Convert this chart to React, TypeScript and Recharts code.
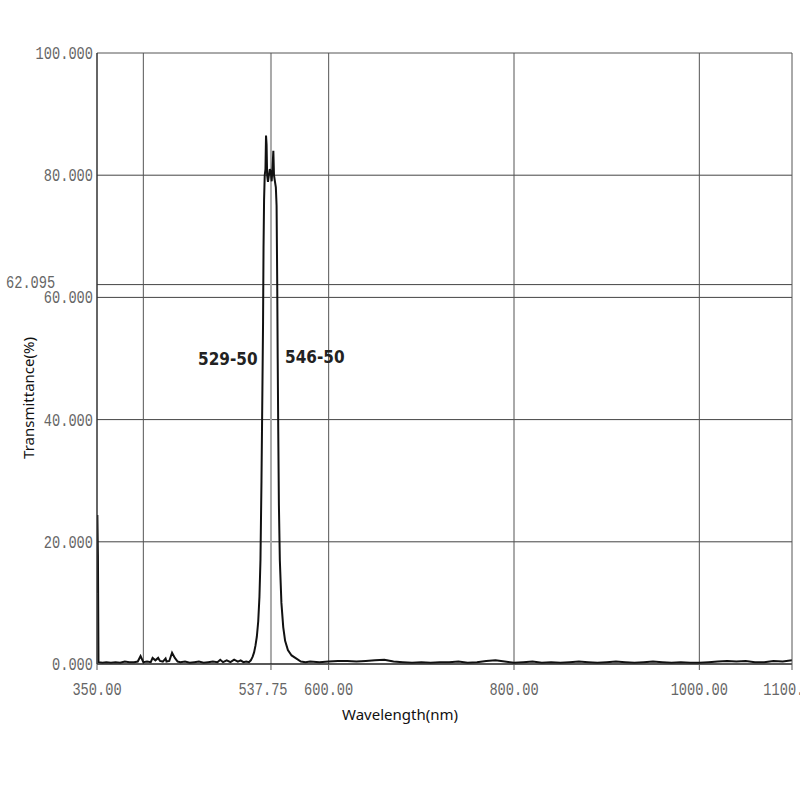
import { LineChart, Line, XAxis, YAxis, ReferenceLine } from 'recharts';

const WAVELENGTH = [
  350, 350.4, 351, 351.6, 356, 360, 365, 370, 375, 380, 385, 390, 394, 397, 400, 404, 408, 410,
  413, 416, 418, 421, 424, 425, 428, 431, 434, 437, 440, 445, 450, 455, 460, 465, 470, 475, 480,
  483, 486, 490, 494, 498, 502, 505, 508, 511, 514, 516, 518, 519.5, 521, 522.5, 524, 525.3,
  526.4, 527.5, 528.5, 529.2, 529.7, 530.3, 531, 531.8, 532.4, 533, 533.6, 534.5, 535.5, 536.5,
  537.5, 538.5, 539.5, 540.3, 541, 542, 543, 543.8, 544.5, 545, 545.6, 546.3, 547.3, 549, 551,
  553, 556, 560, 564, 570, 575, 580, 590, 600, 610, 620, 630, 640, 650, 660, 670, 680, 690, 700,
  710, 720, 730, 740, 750, 760, 770, 780, 790, 800, 810, 820, 830, 840, 850, 860, 870, 880, 890,
  900, 910, 920, 930, 940, 950, 960, 970, 980, 990, 1000, 1010, 1020, 1030, 1040, 1050, 1060,
  1070, 1080, 1090, 1100,
];

const TRANSMITTANCE = [
  11.6, 24.4, 17.8, 0.3, 0.2, 0.3, 0.2, 0.3, 0.2, 0.4, 0.3, 0.3, 0.4, 1.3, 0.3, 0.4, 0.3, 1.0,
  0.6, 1.0, 0.5, 0.4, 0.9, 0.4, 0.5, 1.85, 1.0, 0.4, 0.3, 0.4, 0.2, 0.3, 0.4, 0.2, 0.3, 0.4, 0.3,
  0.7, 0.3, 0.6, 0.3, 0.7, 0.4, 0.6, 0.3, 0.4, 0.3, 0.6, 1.2, 1.9, 3.0, 4.5, 7, 11,
  17, 30, 45, 56, 68, 76, 80, 81, 86.5, 85, 80, 78.9, 80, 81,
  80.5, 79, 81.5, 84, 80, 79, 78, 75, 62, 50, 38, 26, 17, 10, 6,
  3.8, 2.3, 1.4, 1.0, 0.4, 0.3, 0.4, 0.3, 0.4, 0.5, 0.5, 0.4, 0.5, 0.6, 0.7, 0.4, 0.3, 0.2, 0.3,
  0.2, 0.3, 0.3, 0.4, 0.2, 0.3, 0.5, 0.6, 0.4, 0.2, 0.3, 0.4, 0.2, 0.3, 0.2, 0.3, 0.4, 0.3, 0.2,
  0.3, 0.4, 0.3, 0.2, 0.3, 0.4, 0.3, 0.2, 0.3, 0.2, 0.2, 0.3, 0.4, 0.5, 0.4, 0.5, 0.3,
  0.3, 0.5, 0.4, 0.6,
];

const X_TICKS = [350, 537.75, 600, 800, 1000, 1100];
const X_GRID = [400, 600, 800, 1000];
const X_MINOR = [
  360, 380, 400, 420, 440, 460, 480, 500, 520, 540, 560, 580, 600, 620, 640, 660, 680, 700, 720,
  740, 760, 780, 800, 820, 840, 860, 880, 900, 920, 940, 960, 980, 1000, 1020, 1040, 1060, 1080,
];
const Y_TICKS = [0, 20, 40, 60, 62.095, 80, 100];
const Y_GRID = [20, 40, 60, 80];
const Y_MINOR = [4, 8, 12, 16, 24, 28, 32, 36, 44, 48, 52, 56, 64, 68, 72, 76, 84, 88, 92, 96];
const MARKER = 537.75;
const LEVEL = 62.095;

const data = WAVELENGTH.map((w, i) => ({ w, t: TRANSMITTANCE[i] }));

const tickFont = { fontFamily: '"Liberation Mono", monospace', fontSize: 19, fill: '#666' };

const XTick = (props: any) => {
  const { x, payload } = props;
  const s = payload.value.toFixed(2);
  const shift = payload.value === MARKER ? -8 : 0;
  return (
    <text x={x + shift} y={695} textAnchor="middle" textLength={8.2 * s.length}
      lengthAdjust="spacingAndGlyphs" {...tickFont}>{s}</text>
  );
};

const YTick = (props: any) => {
  const { y, payload } = props;
  const s = payload.value.toFixed(3);
  if (payload.value === LEVEL) {
    return (
      <text x={6} y={y + 3} textAnchor="start" textLength={8.2 * s.length}
        lengthAdjust="spacingAndGlyphs" {...tickFont}>{s}</text>
    );
  }
  return (
    <text x={93} y={y + 6} textAnchor="end" textLength={8.2 * s.length}
      lengthAdjust="spacingAndGlyphs" {...tickFont}>{s}</text>
  );
};

export default function App() {
  return (
    <div style={{ position: 'absolute', left: 0, top: 0, width: 800, height: 800, background: '#fff' }}>
      <LineChart width={800} height={800} data={data} margin={{ top: 53, right: 8, bottom: 106, left: 37 }}>
        <XAxis dataKey="w" type="number" domain={[350, 1100]} ticks={X_TICKS} interval={0}
          height={30} tickSize={6} tick={<XTick />} allowDataOverflow
          axisLine={{ stroke: '#222', strokeWidth: 1.5 }} tickLine={{ stroke: '#555' }} />
        <XAxis xAxisId="top" orientation="top" mirror type="number" domain={[350, 1100]}
          ticks={X_MINOR} interval={0} height={20} tickSize={4} tick={false} allowDataOverflow
          axisLine={{ stroke: '#555' }} tickLine={{ stroke: '#555' }} />
        <YAxis type="number" domain={[0, 100]} ticks={Y_TICKS} interval={0} width={60}
          tick={<YTick />} allowDataOverflow
          axisLine={{ stroke: '#333', strokeWidth: 1.5 }} tickLine={false} />
        <YAxis yAxisId="minorL" orientation="left" mirror type="number" domain={[0, 100]}
          ticks={Y_MINOR} interval={0} width={20} tickSize={3} tick={false} allowDataOverflow
          axisLine={false} tickLine={{ stroke: '#333' }} />
        <YAxis yAxisId="right" orientation="right" mirror type="number" domain={[0, 100]}
          ticks={Y_MINOR} interval={0} width={20} tickSize={3} tick={false} allowDataOverflow
          axisLine={{ stroke: '#555' }} tickLine={{ stroke: '#555' }} />
        {Y_GRID.map((v) => (
          <ReferenceLine key={`y${v}`} y={v} stroke="#444" strokeWidth={1} />
        ))}
        <ReferenceLine y={LEVEL} stroke="#444" strokeWidth={1} />
        {X_GRID.map((v) => (
          <ReferenceLine key={`x${v}`} x={v} stroke="#555" strokeWidth={1} />
        ))}
        <ReferenceLine x={MARKER} stroke="#aaa" strokeWidth={2} />
        <Line dataKey="t" type="linear" stroke="#111" strokeWidth={2} dot={false}
          isAnimationActive={false} />
      </LineChart>
      <div style={{
        position: 'absolute', left: 198, top: 349, fontFamily: '"DejaVu Sans Condensed", sans-serif',
        fontWeight: 'bold', fontSize: 17, color: '#222', whiteSpace: 'nowrap',
      }}>529-50</div>
      <div style={{
        position: 'absolute', left: 285, top: 347, fontFamily: '"DejaVu Sans Condensed", sans-serif',
        fontWeight: 'bold', fontSize: 17, color: '#222', whiteSpace: 'nowrap',
      }}>546-50</div>
      <div style={{
        position: 'absolute', left: 400, top: 714, transform: 'translate(-50%, -50%)',
        fontFamily: '"Noto Sans", sans-serif', fontSize: 15, color: '#111', whiteSpace: 'nowrap',
      }}>Wavelength(nm)</div>
      <div style={{
        position: 'absolute', left: 28, top: 398, transform: 'translate(-50%, -50%) rotate(-90deg)',
        fontFamily: '"Noto Sans", sans-serif', fontSize: 15, color: '#111', whiteSpace: 'nowrap',
      }}>Transmittance(%)</div>
    </div>
  );
}
